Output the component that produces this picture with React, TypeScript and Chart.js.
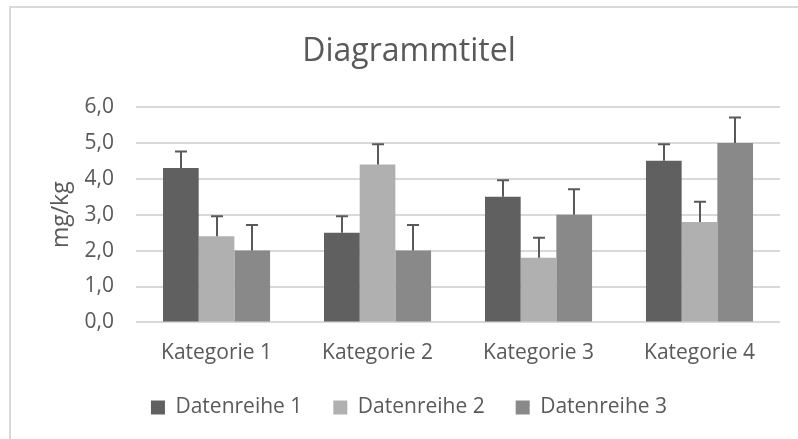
import React, { useEffect, useRef } from "react";
import { Chart, registerables } from "chart.js";

Chart.register(...registerables);

const categories = ["Kategorie 1", "Kategorie 2", "Kategorie 3", "Kategorie 4"];
const seriesNames = ["Datenreihe 1", "Datenreihe 2", "Datenreihe 3"];
const series1 = [4.3, 2.5, 3.5, 4.5];
const series2 = [2.4, 4.4, 1.8, 2.8];
const series3 = [2.0, 2.0, 3.0, 5.0];
const errors1 = [0.46, 0.46, 0.46, 0.46];
const errors2 = [0.56, 0.56, 0.56, 0.56];
const errors3 = [0.71, 0.71, 0.71, 0.71];
const yTicks = [0, 1, 2, 3, 4, 5, 6];
const titleText = "Diagrammtitel";
const yAxisTitle = "mg/kg";

const colors = ["#606060", "#b0b0b0", "#898989"];
const textColor = "#595959";
const fontFamily = "'Open Sans', 'Noto Sans', sans-serif";

const errorBarPlugin = {
  id: "errorBars",
  afterDatasetsDraw(chart: any) {
    const ctx = chart.ctx;
    const yScale = chart.scales.y;
    chart.data.datasets.forEach((ds: any, i: number) => {
      const meta = chart.getDatasetMeta(i);
      const errs = ds.errors as number[];
      meta.data.forEach((bar: any, j: number) => {
        const v = ds.data[j];
        const e = errs[j];
        const yTop = yScale.getPixelForValue(v + e);
        const yBase = yScale.getPixelForValue(v);
        const x = Math.round(bar.x);
        ctx.save();
        ctx.strokeStyle = "#595959";
        ctx.lineWidth = 2;
        ctx.beginPath();
        ctx.moveTo(x, yBase);
        ctx.lineTo(x, yTop);
        ctx.moveTo(x - 6, yTop);
        ctx.lineTo(x + 6, yTop);
        ctx.stroke();
        ctx.restore();
      });
    });
  },
};

export default function App() {
  const canvasRef = useRef<HTMLCanvasElement | null>(null);

  useEffect(() => {
    if (!canvasRef.current) return;
    const seriesData = [series1, series2, series3];
    const seriesErrors = [errors1, errors2, errors3];
    const chart = new Chart(canvasRef.current, {
      type: "bar",
      data: {
        labels: categories,
        datasets: seriesNames.map((name, i) => ({
          label: name,
          data: seriesData[i],
          errors: seriesErrors[i],
          backgroundColor: colors[i],
          borderWidth: 0,
          categoryPercentage: 0.665,
          barPercentage: 1.0,
        })) as any,
      },
      options: {
        animation: false,
        responsive: false,
        maintainAspectRatio: false,
        devicePixelRatio: 1,
        layout: { padding: { left: 38, right: 18, top: 0, bottom: 0 } },
        plugins: {
          title: {
            display: true,
            text: titleText,
            color: textColor,
            font: { family: fontFamily, size: 32, weight: "normal" },
            padding: { top: 33, bottom: 35.6 },
          },
          legend: {
            display: true,
            position: "bottom",
            labels: {
              color: textColor,
              font: { family: fontFamily, size: 21 },
              boxWidth: 14,
              boxHeight: 14,
              padding: 31,
            },
          },
          tooltip: { enabled: false },
        },
        scales: {
          x: {
            grid: {
              display: true,
              drawOnChartArea: false,
              drawTicks: true,
              tickLength: 18.4,
              tickColor: "rgba(0,0,0,0)",
              color: "rgba(0,0,0,0)",
            },
            border: { display: false },
            ticks: {
              color: textColor,
              font: { family: fontFamily, size: 21 },
              padding: 0,
            },
          },
          y: {
            min: 0,
            max: 6,
            afterBuildTicks: (scale: any) => {
              scale.ticks = yTicks.map((v) => ({ value: v }));
            },
            grid: {
              color: "#d9d9d9",
              lineWidth: 2,
              drawTicks: true,
              tickLength: 22,
              tickColor: "rgba(0,0,0,0)",
            },
            border: { display: false },
            ticks: {
              color: textColor,
              font: { family: fontFamily, size: 21 },
              padding: 0,
              callback: (v: any) => Number(v).toFixed(1).replace(".", ","),
            },
            title: {
              display: true,
              text: yAxisTitle,
              color: textColor,
              font: { family: fontFamily, size: 23 },
              padding: { top: 9.2, bottom: 9.8 },
            },
          },
        },
      },
      plugins: [errorBarPlugin],
    });
    return () => chart.destroy();
  }, []);

  return (
    <div
      style={{
        position: "absolute",
        left: 0,
        top: 0,
        width: 798,
        height: 439,
        overflow: "hidden",
        background: "#ffffff",
      }}
    >
      <div
        style={{
          position: "absolute",
          left: 9,
          top: 6,
          width: 900,
          height: 900,
          border: "2px solid #d9d9d9",
          boxSizing: "border-box",
        }}
      />
      <canvas
        ref={canvasRef}
        width={798}
        height={428}
        style={{ position: "absolute", left: 0, top: 0, width: 798, height: 428 }}
      />
    </div>
  );
}
